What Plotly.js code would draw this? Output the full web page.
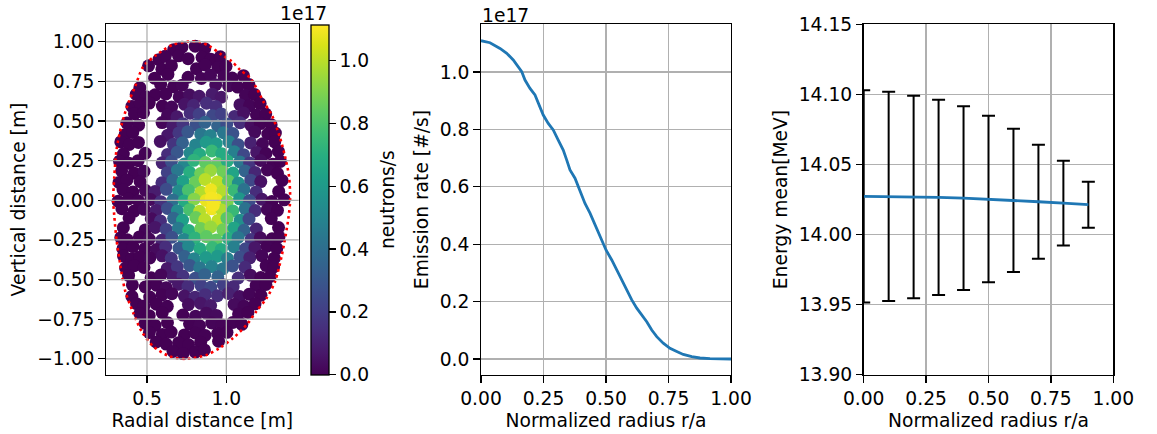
<!DOCTYPE html>
<html><head><meta charset="utf-8">
<script src="https://cdn.plot.ly/plotly-3.0.1.min.js"></script>
<style>html,body{margin:0;padding:0;background:#fff}#chart{width:1157px;height:434px}</style>
</head><body><div id="chart"></div>
<script>
// ---------- Panel 1: sampled emission points (R [m], Z [m], emission [1e17 neutrons/s]) ----------
const pointR = [
0.668,0.72,0.804,0.864,
0.575,0.615,0.699,0.759,0.847,0.902,0.962,
0.51,0.594,0.654,0.812,0.867,0.947,0.998,
0.548,0.632,0.759,0.843,0.9,0.985,1.037,1.108,
0.455,0.586,0.667,0.722,0.933,1.014,1.072,1.142,
0.432,0.494,0.551,0.619,0.703,0.768,0.829,0.911,0.968,1.121,1.178,
0.405,0.458,0.514,0.597,0.655,0.737,0.793,0.875,0.934,1.086,1.146,1.213,
0.421,0.478,0.63,0.689,0.772,0.829,0.913,0.969,1.052,1.109,1.19,1.248,
0.373,0.447,0.595,0.662,0.726,0.808,0.866,0.945,1.003,1.087,1.156,1.214,1.282,
0.362,0.41,0.631,0.701,0.757,0.839,0.899,0.982,1.041,1.179,1.261,1.309,
0.335,0.388,0.446,0.584,0.667,0.724,0.806,0.873,0.936,1.016,1.074,1.153,1.228,1.305,
0.351,0.489,0.63,0.69,0.771,0.831,0.909,0.971,1.05,1.109,1.191,1.25,1.328,
0.327,0.386,0.444,0.596,0.654,0.736,0.795,0.868,0.944,1.006,1.085,1.147,1.216,1.293,1.34,
0.34,0.421,0.481,0.628,0.692,0.769,0.838,0.901,0.979,1.042,1.118,1.181,1.259,1.322,
0.324,0.374,0.457,0.594,0.663,0.727,0.805,0.866,0.943,1.013,1.076,1.154,1.217,1.351,
0.349,0.411,0.49,0.551,0.622,0.699,0.761,0.841,0.903,0.978,1.049,1.111,1.188,1.33,
0.318,0.384,0.446,0.523,0.587,0.664,0.734,0.797,0.873,0.937,1.006,1.083,1.146,1.224,1.287,1.365,
0.342,0.419,0.482,0.558,0.629,0.691,0.768,0.832,0.908,0.971,1.041,1.119,1.182,1.258,1.322,
0.387,0.527,0.585,0.668,0.724,0.808,0.864,0.946,1.004,1.087,1.143,1.283,
0.351,0.489,0.552,0.621,0.698,0.763,0.839,0.902,0.978,1.048,1.112,1.189,1.329,
0.335,0.376,0.452,0.514,0.593,0.657,0.733,0.802,0.875,0.936,1.013,1.074,1.156,1.214,1.288,1.332,
0.348,0.412,0.487,0.559,0.618,0.702,0.762,0.834,0.911,0.968,1.047,1.121,1.18,1.257,1.318,
0.352,0.404,0.455,0.518,0.596,0.653,0.738,0.797,0.872,0.943,1.007,1.086,1.148,1.224,1.302,
0.365,0.419,0.481,0.628,0.691,0.769,0.832,0.908,0.979,1.039,1.118,1.251,1.298,
0.384,0.526,0.588,0.665,0.727,0.804,0.864,0.946,1.075,1.152,1.217,1.276,
0.408,0.489,0.561,0.621,0.699,0.758,0.841,0.902,0.981,1.043,1.188,1.249,
0.405,0.517,0.594,0.657,0.736,0.803,0.867,0.944,1.012,1.083,1.144,1.218,
0.434,0.481,0.559,0.628,0.761,0.838,0.901,1.049,1.112,1.181,
0.455,0.514,0.596,0.726,0.806,0.874,0.937,1.077,1.136,
0.488,0.551,0.629,0.768,0.831,0.908,0.972,1.041,1.098,
0.515,0.597,0.652,0.736,0.804,0.866,0.945,1.004,
0.558,0.621,0.699,0.762,0.838,0.951,
0.664,0.727,0.805,0.862,
0.905,0.918
];
const pointZ = [
0.95,0.966,0.972,0.956,
0.887,0.909,0.911,0.893,0.902,0.89,0.905,
0.848,0.826,0.849,0.83,0.854,0.838,0.845,
0.77,0.794,0.776,0.768,0.789,0.782,0.771,0.786,
0.71,0.732,0.716,0.726,0.729,0.722,0.714,0.73,
0.668,0.653,0.665,0.671,0.652,0.664,0.656,0.669,0.65,0.662,0.667,
0.592,0.607,0.613,0.594,0.588,0.605,0.599,0.612,0.591,0.603,0.596,0.61,
0.546,0.552,0.536,0.527,0.549,0.542,0.534,0.545,0.529,0.55,0.538,0.544,
0.487,0.474,0.49,0.471,0.483,0.476,0.492,0.468,0.481,0.489,0.473,0.484,0.477,
0.414,0.428,0.411,0.425,0.432,0.417,0.409,0.426,0.421,0.43,0.418,0.424,
0.368,0.352,0.365,0.371,0.354,0.363,0.349,0.366,0.357,0.37,0.351,0.362,0.356,0.369,
0.292,0.296,0.289,0.303,0.298,0.291,0.311,0.294,0.306,0.288,0.302,0.295,0.309,
0.247,0.233,0.25,0.236,0.244,0.229,0.252,0.238,0.231,0.248,0.242,0.235,0.251,0.228,0.245,
0.186,0.171,0.183,0.174,0.19,0.177,0.169,0.188,0.18,0.172,0.185,0.176,0.191,0.17,
0.113,0.128,0.117,0.11,0.126,0.119,0.114,0.131,0.116,0.122,0.109,0.127,0.118,0.125,
0.067,0.052,0.063,0.055,0.069,0.058,0.064,0.051,0.066,0.057,0.062,0.068,0.053,0.056,
-0.006,0.008,-0.003,0.005,-0.009,0.002,-0.004,0.007,-0.001,0.004,-0.007,0.009,-0.002,0.006,-0.008,0.003,
-0.053,-0.068,-0.057,-0.064,-0.051,-0.066,-0.059,-0.069,-0.054,-0.062,-0.067,-0.052,-0.065,-0.058,-0.063,
-0.111,-0.116,-0.13,-0.114,-0.125,-0.109,-0.121,-0.128,-0.113,-0.126,-0.118,-0.115,
-0.173,-0.187,-0.171,-0.184,-0.176,-0.19,-0.178,-0.169,-0.186,-0.174,-0.189,-0.181,-0.172,
-0.236,-0.249,-0.231,-0.244,-0.252,-0.233,-0.247,-0.238,-0.229,-0.25,-0.241,-0.234,-0.248,-0.237,-0.243,-0.23,
-0.307,-0.292,-0.304,-0.311,-0.295,-0.302,-0.289,-0.306,-0.298,-0.31,-0.293,-0.305,-0.299,-0.29,-0.303,
-0.352,-0.368,-0.357,-0.364,-0.35,-0.366,-0.355,-0.369,-0.361,-0.353,-0.367,-0.358,-0.363,-0.349,-0.365,
-0.427,-0.413,-0.424,-0.43,-0.419,-0.411,-0.426,-0.418,-0.431,-0.414,-0.423,-0.412,-0.42,
-0.474,-0.489,-0.471,-0.485,-0.478,-0.492,-0.469,-0.483,-0.49,-0.472,-0.487,-0.48,
-0.533,-0.547,-0.536,-0.551,-0.529,-0.543,-0.538,-0.549,-0.532,-0.545,-0.537,-0.531,
-0.606,-0.61,-0.597,-0.589,-0.604,-0.611,-0.595,-0.602,-0.588,-0.607,-0.593,-0.599,
-0.652,-0.667,-0.655,-0.669,-0.658,-0.65,-0.664,-0.657,-0.668,-0.653,
-0.714,-0.728,-0.709,-0.724,-0.731,-0.712,-0.726,-0.717,-0.707,
-0.776,-0.789,-0.772,-0.779,-0.791,-0.774,-0.786,-0.77,-0.782,
-0.834,-0.846,-0.831,-0.849,-0.837,-0.852,-0.84,-0.833,
-0.893,-0.907,-0.899,-0.911,-0.896,-0.889,
-0.953,-0.967,-0.958,-0.944,
0.015,-0.032
];
const pointE = [
0.001,0.001,0.001,0.001,
0.001,0.001,0.001,0.001,0.001,0.001,0.001,
0.001,0.001,0.001,0.002,0.002,0.002,0.001,
0.001,0.001,0.004,0.01,0.012,0.01,0.004,0.001,
0.001,0.001,0.002,0.01,0.03,0.02,0.006,0.001,
0.001,0.001,0.001,0.003,0.013,0.035,0.065,0.08,0.065,0.008,0.001,
0.001,0.001,0.001,0.003,0.016,0.055,0.11,0.145,0.145,0.04,0.008,0.001,
0.001,0.001,0.018,0.07,0.14,0.21,0.24,0.21,0.125,0.045,0.006,0.001,
0.001,0.001,0.016,0.075,0.165,0.27,0.35,0.35,0.26,0.14,0.035,0.004,0.001,
0.001,0.001,0.07,0.175,0.30,0.44,0.49,0.44,0.28,0.026,0.002,0.001,
0.001,0.001,0.001,0.05,0.165,0.34,0.50,0.60,0.60,0.48,0.27,0.10,0.015,0.001,
0.001,0.003,0.145,0.30,0.52,0.68,0.75,0.68,0.48,0.24,0.065,0.006,0.001,
0.001,0.001,0.002,0.105,0.27,0.51,0.72,0.84,0.84,0.69,0.44,0.17,0.03,0.002,0.001,
0.001,0.001,0.008,0.215,0.45,0.70,0.87,0.945,0.87,0.65,0.35,0.115,0.013,0.001,
0.001,0.001,0.002,0.145,0.37,0.63,0.86,1.0,1.01,0.83,0.55,0.24,0.05,0.001,
0.001,0.001,0.012,0.085,0.26,0.53,0.79,0.99,1.09,0.99,0.75,0.42,0.14,0.001,
0.001,0.001,0.003,0.03,0.155,0.40,0.68,0.91,1.08,1.09,0.89,0.59,0.26,0.06,0.004,0.001,
0.001,0.001,0.012,0.085,0.26,0.53,0.79,0.99,1.09,0.99,0.75,0.42,0.14,0.016,0.001,
0.001,0.028,0.145,0.37,0.63,0.86,1.0,1.01,0.83,0.55,0.24,0.003,
0.001,0.008,0.06,0.215,0.45,0.70,0.87,0.945,0.87,0.65,0.35,0.115,0.001,
0.001,0.001,0.002,0.017,0.105,0.27,0.51,0.72,0.84,0.84,0.69,0.44,0.17,0.03,0.002,0.001,
0.001,0.001,0.003,0.03,0.145,0.30,0.52,0.68,0.75,0.68,0.48,0.24,0.065,0.006,0.001,
0.001,0.001,0.001,0.008,0.05,0.165,0.34,0.50,0.60,0.60,0.48,0.27,0.10,0.015,0.001,
0.001,0.001,0.001,0.07,0.175,0.30,0.44,0.49,0.44,0.28,0.13,0.002,0.001,
0.001,0.002,0.016,0.075,0.165,0.27,0.35,0.35,0.14,0.035,0.004,0.001,
0.001,0.001,0.003,0.018,0.07,0.14,0.21,0.24,0.21,0.125,0.006,0.001,
0.001,0.001,0.003,0.016,0.055,0.11,0.145,0.145,0.10,0.04,0.008,0.001,
0.001,0.001,0.001,0.003,0.035,0.065,0.08,0.03,0.008,0.001,
0.001,0.001,0.001,0.01,0.02,0.03,0.03,0.006,0.001,
0.001,0.001,0.001,0.004,0.01,0.012,0.01,0.004,0.001,
0.001,0.001,0.001,0.001,0.002,0.002,0.002,0.001,
0.001,0.001,0.001,0.001,0.001,0.001,
0.001,0.001,0.001,0.001,
1.10,1.10
];
// plasma boundary (dotted red)
const boundaryR = [1.402,1.395,1.37,1.339,1.286,1.233,1.19,1.149,1.086,1.034,0.971,0.897,0.834,0.75,0.66,0.561,0.477,0.424,0.382,0.34,0.308,0.294,0.287,0.294,0.308,0.33,0.361,0.414,0.467,0.54,0.645,0.75,0.876,0.96,1.044,1.128,1.19,1.255,1.307,1.35,1.39,1.402];
const boundaryZ = [0,0.15,0.276,0.392,0.539,0.623,0.708,0.773,0.823,0.876,0.918,0.97,0.998,1.0,0.98,0.918,0.844,0.714,0.613,0.476,0.319,0.15,0,-0.1,-0.249,-0.396,-0.565,-0.712,-0.828,-0.922,-0.985,-1.0,-0.975,-0.93,-0.868,-0.785,-0.70,-0.615,-0.512,-0.345,-0.12,0];

// ---------- Panel 2: emission rate profile [1e17 #/s] ----------
const radius = [0,0.036,0.076,0.103,0.129,0.149,0.163,0.176,0.196,0.216,0.229,0.249,0.269,0.289,0.309,0.329,0.343,0.356,0.376,0.396,0.416,0.436,0.456,0.476,0.5,0.523,0.543,0.563,0.583,0.603,0.623,0.643,0.663,0.683,0.703,0.729,0.756,0.783,0.809,0.843,0.876,0.916,0.956,1.0];
const emission = [1.109,1.102,1.082,1.065,1.042,1.019,1.001,0.972,0.943,0.92,0.891,0.85,0.821,0.798,0.763,0.728,0.693,0.659,0.63,0.589,0.542,0.508,0.467,0.426,0.38,0.345,0.31,0.275,0.24,0.206,0.177,0.153,0.13,0.101,0.078,0.055,0.037,0.026,0.016,0.008,0.0035,0.001,0.0,0.0];

// ---------- Panel 3: energy mean [MeV] with spread ----------
const radius3 = [0,0.1,0.2,0.3,0.4,0.5,0.6,0.7,0.8,0.9];
const energyMean = [14.0273,14.0272,14.0268,14.0265,14.026,14.0253,14.0244,14.0234,14.0224,14.0213];
const energyErr = [0.0757,0.0746,0.0723,0.0697,0.0656,0.0594,0.0511,0.0407,0.0303,0.0164];

// ---------- ticks ----------
const xTicks1 = [0.5,1.0];
const yTicks1 = [-1,-0.75,-0.5,-0.25,0,0.25,0.5,0.75,1];
const cbTicks = [0,0.2,0.4,0.6,0.8,1.0];
const xTicks2 = [0,0.25,0.5,0.75,1];
const yTicks2 = [0,0.2,0.4,0.6,0.8,1.0];
const yTicks3 = [13.9,13.95,14.0,14.05,14.1,14.15];

const W = 1157, H = 434;
const FS = 18.7;
const px = v => v / W;
const py = v => (H - v) / H;
const yDom = [py(374.7), py(24.3)];
const GRID = '#b0b0b0';

const axBase = {
  showline:true, mirror:true, linecolor:'black', linewidth:1.3,
  ticks:'outside', ticklen:6.5, tickwidth:1.3, tickcolor:'black',
  zeroline:false, gridcolor:GRID, gridwidth:1.3,
  tickfont:{size:FS, color:'black'}, fixedrange:true, tickmode:'array'
};
const ttl = (t, s) => ({text:t, font:{size:FS, color:'black'}, standoff:s});

const traces = [
  {type:'scatter', mode:'markers', x:pointR, y:pointZ, xaxis:'x', yaxis:'y', hoverinfo:'skip', showlegend:false,
   marker:{size:13, color:pointE, colorscale:'Viridis', cmin:0, cmax:1.115, line:{width:0},
     colorbar:{x:px(311), xanchor:'left', y:yDom[0], yanchor:'bottom', xpad:0, ypad:0,
       len:350.4, lenmode:'pixels', thickness:18, thicknessmode:'pixels',
       outlinewidth:1.3, outlinecolor:'black', tickmode:'array', tickvals:cbTicks, tickformat:'.1f',
       ticks:'outside', ticklen:6.5, tickwidth:1.3, tickcolor:'black', tickfont:{size:FS, color:'black'}}}},
  {type:'scatter', mode:'lines', x:boundaryR, y:boundaryZ, xaxis:'x', yaxis:'y', hoverinfo:'skip', showlegend:false,
   line:{color:'#ff0000', width:2.6, dash:'2.6px,3.4px', shape:'spline', smoothing:0.8}},
  {type:'scatter', mode:'lines', x:radius, y:emission, xaxis:'x2', yaxis:'y2', hoverinfo:'skip', showlegend:false,
   line:{color:'#1f77b4', width:2.8}},
  {type:'scatter', mode:'lines', x:radius3, y:energyMean, xaxis:'x3', yaxis:'y3', hoverinfo:'skip', showlegend:false,
   cliponaxis:false, line:{color:'#1f77b4', width:2.8},
   error_y:{type:'data', array:energyErr, visible:true, color:'black', thickness:2, width:6.5}}
];

const shapes = [];
xTicks1.forEach(t => shapes.push({type:'line', xref:'x', yref:'y domain', x0:t, x1:t, y0:0, y1:1, layer:'above', line:{color:GRID, width:1.3}}));
yTicks1.forEach(t => shapes.push({type:'line', xref:'x domain', yref:'y', x0:0, x1:1, y0:t, y1:t, layer:'above', line:{color:GRID, width:1.3}}));

const layout = {
  width:W, height:H, margin:{l:0, r:0, t:0, b:0}, paper_bgcolor:'#fff', plot_bgcolor:'#fff',
  font:{family:'DejaVu Sans', size:FS, color:'black'}, showlegend:false,
  xaxis: Object.assign({}, axBase, {domain:[px(106), px(298.7)], range:[0.2417,1.456], anchor:'y', tickvals:xTicks1, tickformat:'.1f', showgrid:false, title:ttl('Radial distance [m]', 6)}),
  yaxis: Object.assign({}, axBase, {domain:yDom, range:[-1.100,1.110], anchor:'x', tickvals:yTicks1, tickformat:'.2f', showgrid:false, title:ttl('Vertical distance [m]', 6)}),
  xaxis2: Object.assign({}, axBase, {domain:[px(481), px(731)], range:[0,1], anchor:'y2', tickvals:xTicks2, tickformat:'.2f', showgrid:true, title:ttl('Normalized radius r/a', 6)}),
  yaxis2: Object.assign({}, axBase, {domain:yDom, range:[-0.0547,1.1662], anchor:'x2', tickvals:yTicks2, tickformat:'.1f', showgrid:true, title:ttl('Emission rate [#/s]', 6)}),
  xaxis3: Object.assign({}, axBase, {domain:[px(863.7), px(1113.3)], range:[0,1], anchor:'y3', tickvals:xTicks2, tickformat:'.2f', showgrid:true, title:ttl('Normalized radius r/a', 6)}),
  yaxis3: Object.assign({}, axBase, {domain:yDom, range:[13.9,14.15], anchor:'x3', tickvals:yTicks3, tickformat:'.2f', showgrid:true, title:ttl('Energy mean[MeV]', 6)}),
  shapes: shapes,
  annotations:[
    {text:'1e17', xref:'paper', yref:'paper', x:px(329), y:py(13), xanchor:'right', yanchor:'middle', showarrow:false, font:{size:FS}},
    {text:'1e17', xref:'paper', yref:'paper', x:px(480), y:py(16), xanchor:'left', yanchor:'middle', showarrow:false, font:{size:FS}},
    {text:'neutrons/s', xref:'paper', yref:'paper', x:px(387), y:py(200), xanchor:'center', yanchor:'middle', textangle:-90, showarrow:false, font:{size:FS}}
  ]
};

Plotly.newPlot('chart', traces, layout, {staticPlot:true, displayModeBar:false});
</script></body></html>
